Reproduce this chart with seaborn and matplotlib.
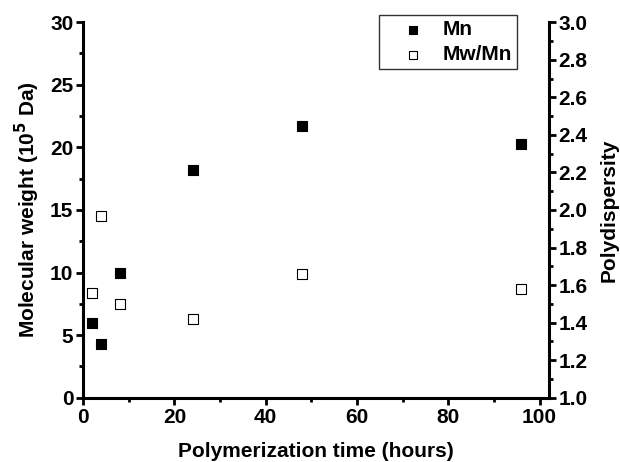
import matplotlib
matplotlib.use("Agg")
import matplotlib.pyplot as plt
import seaborn as sns
import pandas as pd
from matplotlib.ticker import MultipleLocator

# data
time_h = [2, 4, 8, 24, 48, 96]
mn = [6.0, 4.3, 10.0, 18.2, 21.7, 20.3]          # 10^5 Da
pdi = [1.56, 1.97, 1.50, 1.42, 1.66, 1.58]       # Mw/Mn

df = pd.DataFrame({"time": time_h, "Mn": mn, "PDI": pdi})

sns.set_theme(style="ticks")
plt.rcParams["font.family"] = ["Liberation Sans", "DejaVu Sans"]
plt.rcParams["font.weight"] = "bold"
plt.rcParams["axes.labelweight"] = "bold"
plt.rcParams["mathtext.default"] = "bf"
for key in ("text.color", "axes.labelcolor", "xtick.color", "ytick.color", "axes.edgecolor"):
    plt.rcParams[key] = "black"

fig = plt.figure(figsize=(6.2, 4.62), dpi=100)
ax = fig.add_axes([0.134, 0.139, 0.751, 0.813])
ax2 = ax.twinx()

sns.scatterplot(data=df, x="time", y="Mn", ax=ax, marker="s", s=60,
                color="black", edgecolor="black", linewidth=0.8,
                label="Mn", legend=False, zorder=3)
sns.scatterplot(data=df, x="time", y="PDI", ax=ax2, marker="s", s=60,
                facecolor="white", edgecolor="black", linewidth=0.8,
                label="Mw/Mn", legend=False, zorder=3)

ax.set_xlim(0, 102)
ax.set_ylim(0, 30)
ax2.set_ylim(1.0, 3.0)

ax.xaxis.set_major_locator(MultipleLocator(20))
ax.xaxis.set_minor_locator(MultipleLocator(10))
ax.yaxis.set_major_locator(MultipleLocator(5))
ax.yaxis.set_minor_locator(MultipleLocator(2.5))
ax2.yaxis.set_major_locator(MultipleLocator(0.2))
ax2.yaxis.set_minor_locator(MultipleLocator(0.1))

ax.set_xlabel("Polymerization time (hours)", fontsize=15, fontweight="bold", labelpad=11)
ax.set_ylabel("Molecular weight (10$^{5}$ Da)", fontsize=15, fontweight="bold", labelpad=6)
ax2.set_ylabel("Polydispersity", fontsize=15, fontweight="bold", labelpad=9)

for a in (ax, ax2):
    for side in ("left", "right", "bottom"):
        a.spines[side].set_linewidth(2.2)
    a.spines["top"].set_visible(False)
    a.tick_params(which="major", length=5, width=2, labelsize=15, direction="out", pad=2)
    a.tick_params(which="minor", length=3, width=2, direction="out")
ax2.spines["left"].set_visible(False)
ax2.spines["bottom"].set_visible(False)
ax.spines["right"].set_visible(False)

h1, l1 = ax.get_legend_handles_labels()
h2, l2 = ax2.get_legend_handles_labels()
leg = fig.legend(h1 + h2, l1 + l2, loc="upper left", bbox_to_anchor=(0.611, 0.968),
                 frameon=True, fancybox=False, handlelength=2.8, handletextpad=0.0,
                 borderpad=0.25, labelspacing=0.3, markerscale=0.75,
                 borderaxespad=0, prop={"weight": "bold", "size": 15})
leg.get_frame().set_edgecolor("black")
leg.get_frame().set_linewidth(1)

fig.canvas.draw()
for a in (ax, ax2):
    for lbl in a.get_xticklabels() + a.get_yticklabels():
        lbl.set_fontweight("bold")

fig.savefig("out.png", dpi=100)
